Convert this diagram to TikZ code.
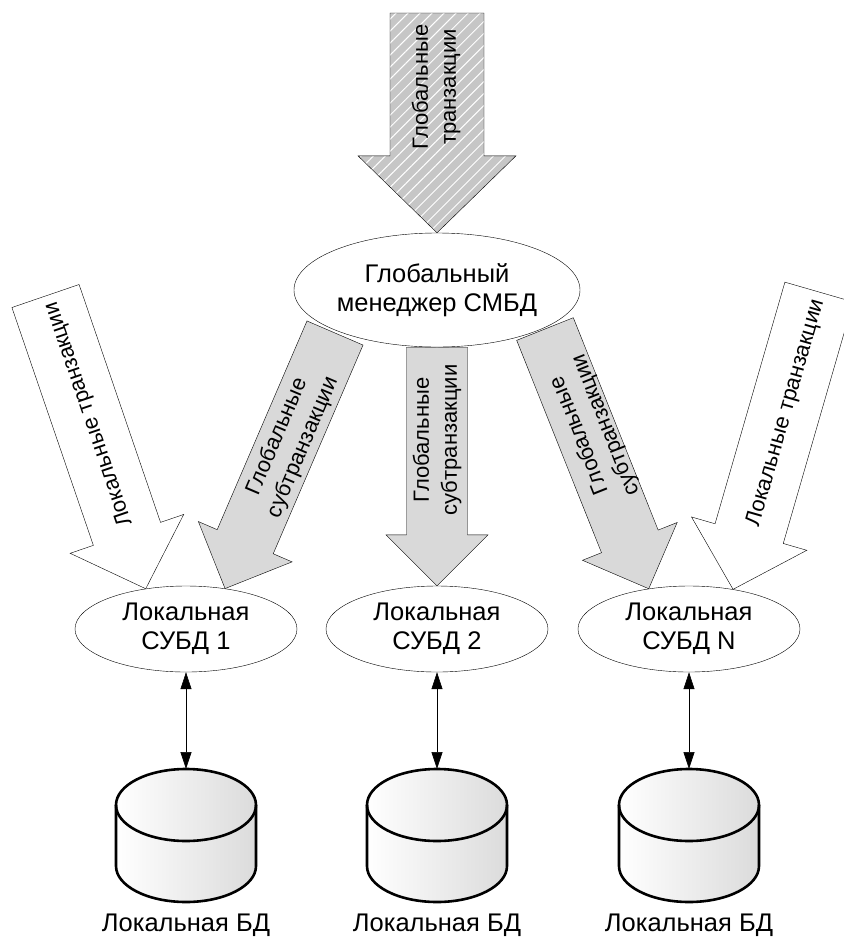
\documentclass[tikz,border=0pt]{standalone}
\usepackage{fontspec}
\setmainfont{Liberation Sans}
\usetikzlibrary{arrows.meta, calc, shapes.geometric, patterns.meta, backgrounds}
\definecolor{subgray}{RGB}{217,217,217}
\definecolor{hatchgray}{RGB}{198,198,198}
% block arrow: [style]{from}{to}{half shaft}{half head}{head length}
\newcommand{\fatarrow}[6][]{\coordinate (fa-b) at ($(#3)!#6!(#2)$);
  \draw[#1] (#3) -- ($(fa-b)!#5!90:(#3)$) -- ($(fa-b)!#4!90:(#3)$) -- ($(#2)!#4!90:(#3)$) -- ($(#2)!#4!-90:(#3)$) -- ($(fa-b)!#4!-90:(#3)$) -- ($(fa-b)!#5!-90:(#3)$) -- cycle;}
% database cylinder centred at x=#1
\newcommand{\dbcyl}[1]{\shadedraw[left color=white, right color=black!14, line width=2.6pt] (#1-70,805) -- (#1-70,866) arc[start angle=180, end angle=360, x radius=70pt, y radius=36pt] -- (#1+70,805) arc[start angle=0, end angle=180, x radius=70pt, y radius=36pt] -- cycle;
  \draw[line width=2.6pt] (#1-70,805) arc[start angle=180, end angle=360, x radius=70pt, y radius=36pt];}
\begin{document}
\begin{tikzpicture}[x=1pt, y=-1pt, dbms/.style={ellipse, draw, fill=white, thin, inner sep=0pt, align=center, font=\fontsize{25.5}{29}\selectfont}, subarrow/.style={draw, thin, fill=subgray}, localarrow/.style={draw, thin, fill=white}, globarrow/.style={draw, thin, preaction={fill=hatchgray}, pattern={Lines[angle=45, distance=8.5pt, line width=1pt]}, pattern color=white}, tag/.style={align=center, font=\fontsize{22}{28}\selectfont}, link/.style={{Triangle[length=17pt, width=11pt]}-{Triangle[length=17pt, width=11pt]}, semithick}, dblabel/.style={anchor=base, font=\fontsize{25.5}{29}\selectfont}]

\useasboundingbox (0,0) rectangle (844,938); \clip (0,0) rectangle (844,938);
\node[dbms, minimum width=286pt, minimum height=114pt] (glob) at (437,290) {Глобальный\\менеджер СМБД};
\node[dbms, minimum width=222pt, minimum height=86pt] (sub1) at (186,629) {Локальная\\СУБД 1};
\node[dbms, minimum width=222pt, minimum height=86pt] (sub2) at (437,629) {Локальная\\СУБД 2};
\node[dbms, minimum width=222pt, minimum height=86pt] (subN) at (689,629) {Локальная\\СУБД N};

\coordinate (gin) at (437,13); \coordinate (g1s) at (335,333); \coordinate (gNs) at (545,329); \coordinate (l1s) at (45.5,296); \coordinate (lNs) at (819,292);
\begin{scope}[on background layer]
\fatarrow[globarrow]{gin}{glob.north}{47pt}{79pt}{77pt}
\fatarrow[subarrow]{g1s}{sub1.46}{30.5pt}{51pt}{51pt} \fatarrow[subarrow]{glob.south}{sub2.north}{30.5pt}{51pt}{51pt} \fatarrow[subarrow]{gNs}{subN.135}{30.5pt}{51pt}{51pt}
\fatarrow[localarrow]{l1s}{sub1.135}{35.5pt}{60pt}{58pt} \fatarrow[localarrow]{lNs}{subN.42}{35.5pt}{60pt}{58pt}
\end{scope}

\node[tag, rotate=90] (gt) at (436,87) {Глобальные\\транзакции};
\node[tag, rotate=67] (st1) at (290,442) {Глобальные\\субтранзакции}; \node[tag, rotate=90] (st2) at (437,440) {Глобальные\\субтранзакции}; \node[tag, rotate=111.6] (stN) at (593,430) {Глобальные\\субтранзакции};
\node[tag, rotate=108.8] (lt1) at (89,414) {Локальные транзакции}; \node[tag, rotate=74] (ltN) at (786,413) {Локальные транзакции};

\dbcyl{186} \dbcyl{437} \dbcyl{689}
\coordinate (db1) at (186,769); \coordinate (db2) at (437,769); \coordinate (dbN) at (689,769);
\draw[link] (sub1.south) -- (db1); \draw[link] (sub2.south) -- (db2); \draw[link] (subN.south) -- (dbN);
\node[dblabel] (bd1) at (186,931) {Локальная БД}; \node[dblabel] (bd2) at (437,931) {Локальная БД}; \node[dblabel] (bdN) at (689,931) {Локальная БД};
\end{tikzpicture}
\end{document}
